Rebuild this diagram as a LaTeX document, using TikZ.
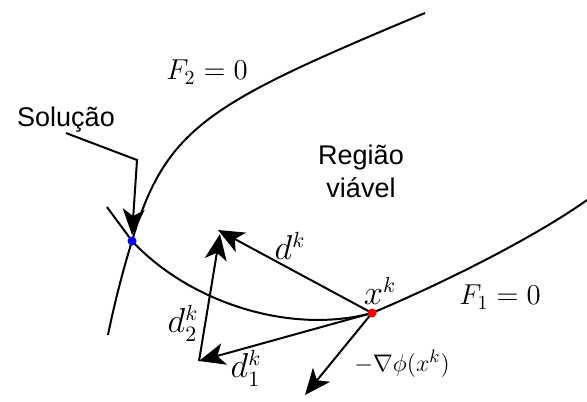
\documentclass[tikz,border=0pt]{standalone}
\usepackage{fontspec}
\newfontfamily\myTextFont{Liberation Sans}
\usetikzlibrary{arrows.meta}
\tikzset{
myCurve/.style={
	black, line width=1pt
}
, myArrow/.style={
	-{Stealth[length=13pt,width=11pt,inset=3.5pt]}, black, line width=1pt
}
, myDot/.style={
	circle, draw=none, inner sep=0pt, minimum size=4.5pt
}
, myText/.style={
	font=\myTextFont\fontsize{13.5}{16.5}\selectfont,
	inner sep=0pt, align=center
}
, myMath/.style={
	font=\fontsize{14.4}{17}\selectfont, inner sep=0pt
}
, myMathBig/.style={
	font=\fontsize{16}{19}\selectfont, inner sep=0pt
}
, myMathSmall/.style={
	font=\fontsize{13}{15}\selectfont, inner sep=0pt
}
}

\begin{document}
\begin{tikzpicture}[x=0.5pt,y=-0.5pt]
	\useasboundingbox (0,0) rectangle (587,401);
	% points
	\coordinate (sol) at (132,241);
	\coordinate (xk) at (372,313);
	\coordinate (solBend) at (137,160);
	\coordinate (solTip) at (132,235);
	\coordinate (dTip) at (218,230);
	\coordinate (dOneTip) at (199,361);
	\coordinate (dTwoTip) at (220,234);
	\coordinate (gradTip) at (305,395);
	% curves
	\draw[myCurve] (107,207) .. controls (115,218) and (124,230) .. (sol)
		.. controls (190,303) and (291,335) .. (xk)
		.. controls (455,278) and (541,233) .. (587,200);
	\draw[myCurve] (108,335) .. controls (114,305) and (123,270) .. (sol)
		.. controls (166,126) and (210,103) .. (425,13);
	% labels
	\node[myText] (solLabel) at (66,120) {Solução};
	\node[myText] (region) at (361,171) {Região\\viável};
	\node[myMath] (fOne) at (500,297) {$F_1=0$};
	\node[myMath] (fTwo) at (207,72) {$F_2=0$};
	\node[myMathBig] (xkLabel) at (380,291) {$x^k$};
	\node[myMathBig] (dLabel) at (290,246) {$d^k$};
	\node[myMathBig] (dOneLabel) at (246,368) {$d_1^k$};
	\node[myMathBig] (dTwoLabel) at (183,323) {$d_2^k$};
	\node[myMathSmall] (gradLabel) at (402,364) {$-\nabla\phi(x^k)$};
	% links
	\draw[myArrow] (solLabel.south) -- (solBend) -- (solTip);
	\draw[myArrow] (xk) -- (dTip);
	\draw[myArrow] (xk) -- (dOneTip);
	\draw[myArrow] (dOneTip) -- (dTwoTip);
	\draw[myArrow] (xk) -- (gradTip);
	% dots
	\node[myDot, fill=blue] (solDot) at (sol) {};
	\node[myDot, fill=red] (xkDot) at (xk) {};
\end{tikzpicture}
\end{document}
